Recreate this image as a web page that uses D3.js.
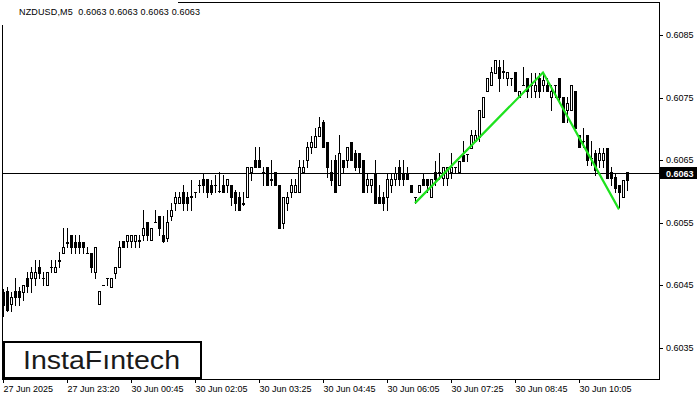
<!DOCTYPE html>
<html><head><meta charset="utf-8">
<script src="https://cdn.jsdelivr.net/npm/d3@7"></script>
<style>
html,body{margin:0;padding:0;background:#fff;}
svg{display:block;}
text{font-family:"Liberation Sans",Arial,sans-serif;}
</style></head>
<body>
<svg id="chart" width="700" height="400"></svg>
<script>
const openP = [
.60439,.60440,.60420,.60440,.60440,.60439,.60461,.60461,.60461,.60479,
.60461,.60450,.60479,.60471,.60488,.60501,.60517,.60530,.60519,.60519,
.60519,.60501,.60501,.60471,.60420,.60450,.60461,.60447,.60469,.60479,
.60520,.60520,.60520,.60520,.60522,.60530,.60551,.60522,.60551,.60560,
.60530,.60525,.60560,.60581,.60581,.60599,.60591,.60591,.60599,.60610,
.60620,.60620,.60610,.60610,.60600,.60610,.60610,.60610,.60599,.60591,
.60581,.60591,.60631,.60650,.60650,.60631,.60639,.60620,.60631,.60610,
.60549,.60581,.60599,.60599,.60599,.60631,.60650,.60671,.60671,.60688,
.60711,.60679,.60631,.60650,.60610,.60650,.60650,.60679,.60661,.60661,
.60650,.60610,.60610,.60629,.60591,.60591,.60591,.60610,.60620,.60639,
.60629,.60629,.60610,.60591,.60599,.60620,.60620,.60591,.60631,.60631,
.60621,.60621,.60631,.60639,.60631,.60658,.60660,.60669,.60680,.60687,
.60719,.60760,.60770,.60789,.60799,.60791,.60781,.60781,.60791,.60751,
.60770,.60781,.60770,.60760,.60781,.60770,.60770,.60751,.60770,.60781,
.60751,.60730,.60730,.60760,.60690,.60680,.60690,.60653,.60661,.60650,
.60650,.60669,.60631,.60623,.60610,.60591,.60631,.60630];
const highP = [
.60444,.60447,.60439,.60461,.60447,.60450,.60471,.60479,.60490,.60490,
.60471,.60471,.60490,.60490,.60503,.60541,.60541,.60530,.60530,.60530,
.60519,.60511,.60501,.60511,.60440,.60450,.60461,.60461,.60479,.60520,
.60520,.60530,.60530,.60530,.60530,.60570,.60551,.60541,.60570,.60560,
.60560,.60570,.60581,.60599,.60599,.60610,.60599,.60618,.60599,.60618,
.60629,.60620,.60618,.60626,.60631,.60626,.60620,.60610,.60602,.60599,
.60599,.60639,.60639,.60671,.60671,.60639,.60639,.60650,.60631,.60610,
.60591,.60599,.60620,.60620,.60650,.60650,.60679,.60688,.60701,.60719,
.60714,.60679,.60650,.60658,.60690,.60650,.60671,.60679,.60666,.60661,
.60650,.60629,.60620,.60650,.60610,.60599,.60629,.60629,.60639,.60650,
.60650,.60639,.60610,.60591,.60610,.60629,.60620,.60620,.60648,.60661,
.60639,.60639,.60661,.60639,.60648,.60680,.60660,.60698,.60698,.60730,
.60751,.60781,.60799,.60810,.60810,.60810,.60791,.60781,.60791,.60760,
.60799,.60781,.60789,.60789,.60789,.60791,.60781,.60770,.60770,.60781,
.60751,.60751,.60770,.60760,.60690,.60701,.60690,.60680,.60666,.60669,
.60669,.60669,.60639,.60629,.60610,.60618,.60631,.60630];
const lowP = [
.60400,.60408,.60408,.60418,.60418,.60426,.60439,.60439,.60450,.60461,
.60450,.60450,.60471,.60471,.60479,.60501,.60511,.60501,.60501,.60501,
.60501,.60501,.60471,.60461,.60420,.60450,.60450,.60447,.60461,.60479,
.60511,.60511,.60511,.60511,.60511,.60522,.60522,.60522,.60551,.60530,
.60519,.60520,.60554,.60570,.60581,.60570,.60570,.60570,.60591,.60599,
.60599,.60591,.60596,.60599,.60599,.60599,.60599,.60578,.60570,.60570,
.60578,.60591,.60618,.60639,.60639,.60610,.60610,.60610,.60610,.60541,
.60541,.60570,.60591,.60599,.60599,.60631,.60639,.60661,.60671,.60688,
.60671,.60623,.60610,.60599,.60610,.60629,.60639,.60650,.60634,.60629,
.60599,.60599,.60599,.60581,.60581,.60570,.60570,.60599,.60610,.60610,
.60610,.60620,.60599,.60581,.60599,.60610,.60599,.60591,.60610,.60620,
.60610,.60610,.60621,.60631,.60631,.60648,.60648,.60669,.60680,.60680,
.60719,.60760,.60770,.60789,.60760,.60781,.60770,.60770,.60760,.60751,
.60770,.60751,.60751,.60751,.60751,.60760,.60760,.60730,.60751,.60741,
.60711,.60711,.60730,.60701,.60671,.60671,.60642,.60642,.60626,.60639,
.60639,.60621,.60610,.60599,.60575,.60591,.60602,.60630];
const closeP = [
.60418,.60410,.60431,.60431,.60431,.60450,.60448,.60471,.60471,.60469,
.60461,.60471,.60479,.60479,.60490,.60511,.60519,.60511,.60511,.60511,
.60511,.60501,.60479,.60511,.60440,.60450,.60461,.60461,.60479,.60511,
.60511,.60530,.60530,.60530,.60520,.60541,.60530,.60541,.60551,.60541,
.60520,.60551,.60570,.60591,.60591,.60581,.60581,.60592,.60599,.60610,
.60610,.60599,.60599,.60610,.60600,.60599,.60620,.60591,.60581,.60570,
.60580,.60639,.60639,.60639,.60639,.60631,.60610,.60618,.60610,.60541,
.60591,.60591,.60610,.60610,.60639,.60639,.60671,.60679,.60688,.60703,
.60671,.60639,.60618,.60599,.60661,.60639,.60671,.60650,.60639,.60639,
.60599,.60620,.60620,.60581,.60581,.60581,.60620,.60620,.60629,.60620,
.60620,.60620,.60599,.60591,.60610,.60610,.60610,.60620,.60620,.60630,
.60639,.60639,.60639,.60639,.60648,.60648,.60660,.60690,.60690,.60730,
.60751,.60781,.60791,.60810,.60781,.60792,.60791,.60781,.60760,.60760,
.60770,.60760,.60770,.60770,.60760,.60778,.60760,.60760,.60770,.60751,
.60711,.60741,.60770,.60701,.60671,.60680,.60650,.60653,.60634,.60661,
.60661,.60621,.60621,.60605,.60599,.60618,.60618,.60630];

const xTickIdx = [0,16,32,48,64,80,96,112,128,144];
const xTickLabels = ["27 Jun 2025","27 Jun 23:20","30 Jun 00:45","30 Jun 02:05","30 Jun 03:25",
                     "30 Jun 04:45","30 Jun 06:05","30 Jun 07:25","30 Jun 08:45","30 Jun 10:05"];
const yTicks = [0.6035,0.6045,0.6055,0.6065,0.6075,0.6085];
const lastPrice = 0.6063;
const titleText = "NZDUSD,M5  0.6063 0.6063 0.6063 0.6063";
const patternIdx = [103,135,154];
const patternPrice = [0.60581,0.60790,0.60571];

const svg = d3.select("#chart");
const L = 2, R = 659, T = 2, B = 379;
const n = openP.length;
const x = d3.scaleLinear().domain([0, n-1]).range([3, 3 + 4*(n-1)]);
const y = d3.scaleLinear().domain([0.6035, 0.6085]).range([347.5, 35]);

// frame
svg.append("rect").attr("x",L+0.5).attr("y",T+0.5).attr("width",R-L).attr("height",B-T)
  .attr("fill","#fff").attr("stroke","#000").attr("shape-rendering","crispEdges");
// title bg
svg.append("rect").attr("x",0).attr("y",0).attr("width",178).attr("height",25).attr("fill","#fff");
svg.append("text").attr("x",19).attr("y",15).attr("font-size",9).attr("fill","#000")
  .attr("xml:space","preserve").style("white-space","pre")
  .attr("textLength",181).attr("lengthAdjust","spacing").text(titleText);

// current price line
svg.append("line").attr("x1",L).attr("x2",R).attr("y1",Math.round(y(lastPrice))+0.5).attr("y2",Math.round(y(lastPrice))+0.5)
  .attr("stroke","#000").attr("shape-rendering","crispEdges");

// candles
const g = svg.append("g").attr("shape-rendering","crispEdges");
const idx = d3.range(n);
idx.forEach(i => {
  const c = Math.round(x(i));
  const o = openP[i], cl = closeP[i];
  const hy = Math.round(y(highP[i])), ly = Math.round(y(lowP[i]));
  g.append("line").attr("x1",c+0.5).attr("x2",c+0.5).attr("y1",hy).attr("y2",ly+1).attr("stroke","#000");
  const ty = Math.round(y(Math.max(o,cl))), by = Math.round(y(Math.min(o,cl)));
  if (by - ty < 1) {
    g.append("line").attr("x1",c-1).attr("x2",c+2).attr("y1",ty+0.5).attr("y2",ty+0.5).attr("stroke","#000");
  } else {
    g.append("rect").attr("x",c-0.5).attr("y",ty+0.5).attr("width",2).attr("height",by-ty)
      .attr("fill", cl > o ? "#fff" : "#000").attr("stroke","#000");
  }
});

// pattern line
svg.append("path")
  .datum(patternIdx.map((d,k)=>[d, patternPrice[k]]))
  .attr("d", d3.line().x(d=>x(d[0])).y(d=>y(d[1])))
  .attr("fill","none").attr("stroke","#1ee21e").attr("stroke-width",2.2).attr("stroke-linejoin","miter");

// y axis
const yAxis = svg.append("g").attr("transform",`translate(${R},0)`)
  .call(d3.axisRight(y).tickValues(yTicks).tickSize(4).tickPadding(3).tickFormat(d3.format(".4f")));
yAxis.select(".domain").remove();
yAxis.selectAll("line").attr("stroke","#000").attr("shape-rendering","crispEdges");
yAxis.selectAll("text").attr("font-family","Liberation Sans, Arial, sans-serif").attr("font-size",9).attr("fill","#000");

// price label
const py = Math.round(y(lastPrice));
svg.append("rect").attr("x",660).attr("y",py-6).attr("width",37).attr("height",12).attr("fill","#000");
svg.append("text").attr("x",666).attr("y",py+3.5).attr("font-size",9).attr("font-weight","bold").attr("fill","#fff")
  .text(d3.format(".4f")(lastPrice));

// x axis
const xAxis = svg.append("g").attr("transform",`translate(0,${B})`)
  .call(d3.axisBottom(x).tickValues(xTickIdx).tickSize(4).tickPadding(3).tickFormat((d,i)=>xTickLabels[i]));
xAxis.select(".domain").remove();
xAxis.selectAll("line").attr("stroke","#000").attr("shape-rendering","crispEdges");
xAxis.selectAll("text").attr("text-anchor","start").attr("font-family","Liberation Sans, Arial, sans-serif")
  .attr("font-size",9).attr("fill","#000");

// logo
svg.append("rect").attr("x",4).attr("y",342).attr("width",197).attr("height",36)
  .attr("fill","#fff").attr("stroke","#000").attr("stroke-width",2);
svg.append("text").attr("x",23).attr("y",368.5).attr("font-family","Inter, Roboto, sans-serif")
  .attr("font-size",26).attr("font-weight",500).attr("fill","#1a1a1a")
  .attr("textLength",157).attr("lengthAdjust","spacingAndGlyphs").text("InstaFıntech");
</script>
</body></html>
